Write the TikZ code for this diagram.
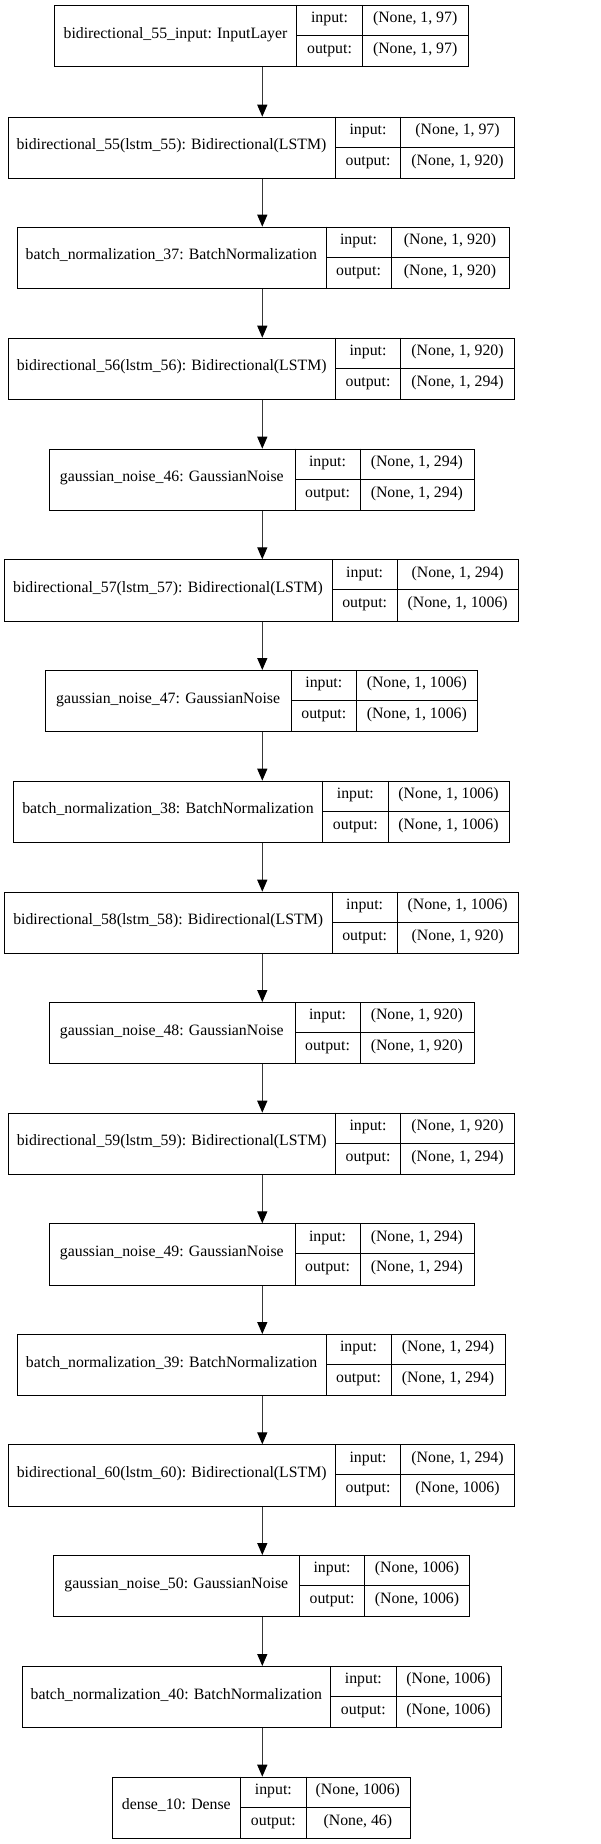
\documentclass[tikz,border=0pt]{standalone}
\usepackage{fontspec}
\setmainfont{Liberation Serif}
\usetikzlibrary{arrows.meta}
\tikzset{
  layerframe/.style={draw=black, line width=1pt, inner sep=0pt, minimum height=61.3pt},
  cellline/.style={draw=black, line width=1pt},
  celltext/.style={inner sep=0pt, text height=0.68em, text depth=0.2em, font=\fontsize{15.8}{18}\selectfont},
  flowarrow/.style={draw=black!78, line width=1.3pt, -{Triangle[length=12pt,width=10pt,color=black,fill=black]}}
}
% #1 name, #2 top, #3 left, #4 divider 1, #5 divider 2, #6 right, #7 label, #8 input, #9 output
\newcommand\layerbox[9]{%
  \pgfmathsetmacro\lwidth{#6-#3}%
  \node[layerframe, minimum width=\lwidth pt, anchor=north west] (#1) at (#3,#2) {};
  \draw[cellline] ({#4},{#2}) -- ({#4},{#2+61.3});
  \draw[cellline] ({#5},{#2}) -- ({#5},{#2+61.3});
  \draw[cellline] ({#4},{#2+30.65}) -- ({#6},{#2+30.65});
  \node[celltext] (#1-l)  at ({(#3+#4)/2},{#2+30.65}) {#7};
  \node[celltext] (#1-ki) at ({(#4+#5)/2},{#2+15.3}) {input:};
  \node[celltext] (#1-ko) at ({(#4+#5)/2},{#2+46}) {output:};
  \node[celltext] (#1-vi) at ({(#5+#6)/2},{#2+15.3}) {#8};
  \node[celltext] (#1-vo) at ({(#5+#6)/2},{#2+46}) {#9};
}
\begin{document}
\begin{tikzpicture}[x=1pt,y=-1pt]
\fill[white] (0,0) rectangle (600,1844);
\useasboundingbox (0,0) rectangle (600,1844);
\coordinate (ax) at (262.3,0);
\layerbox{L0}{5}{54.3}{296.7}{362.3}{468}{bidirectional\_55\_input: InputLayer}{(None, 1, 97)}{(None, 1, 97)}
\layerbox{L1}{116.7}{7.5}{335.3}{400.7}{514.3}{bidirectional\_55(lstm\_55): Bidirectional(LSTM)}{(None, 1, 97)}{(None, 1, 920)}
\layerbox{L2}{226.7}{16.7}{326}{391}{509}{batch\_normalization\_37: BatchNormalization}{(None, 1, 920)}{(None, 1, 920)}
\layerbox{L3}{337.7}{8}{335.3}{400.7}{514.3}{bidirectional\_56(lstm\_56): Bidirectional(LSTM)}{(None, 1, 920)}{(None, 1, 294)}
\layerbox{L4}{448.7}{48.7}{295}{360}{473.7}{gaussian\_noise\_46: GaussianNoise}{(None, 1, 294)}{(None, 1, 294)}
\layerbox{L5}{559.3}{4}{332}{397.3}{518}{bidirectional\_57(lstm\_57): Bidirectional(LSTM)}{(None, 1, 294)}{(None, 1, 1006)}
\layerbox{L6}{670}{45}{291.3}{356.3}{477.3}{gaussian\_noise\_47: GaussianNoise}{(None, 1, 1006)}{(None, 1, 1006)}
\layerbox{L7}{780.7}{13.3}{322.7}{388}{509}{batch\_normalization\_38: BatchNormalization}{(None, 1, 1006)}{(None, 1, 1006)}
\layerbox{L8}{891.7}{4.3}{332}{397.3}{518}{bidirectional\_58(lstm\_58): Bidirectional(LSTM)}{(None, 1, 1006)}{(None, 1, 920)}
\layerbox{L9}{1002}{48.7}{295}{360}{473.7}{gaussian\_noise\_48: GaussianNoise}{(None, 1, 920)}{(None, 1, 920)}
\layerbox{L10}{1112.7}{8}{335.3}{400.7}{514.3}{bidirectional\_59(lstm\_59): Bidirectional(LSTM)}{(None, 1, 920)}{(None, 1, 294)}
\layerbox{L11}{1223.3}{48.7}{295}{360}{473.7}{gaussian\_noise\_49: GaussianNoise}{(None, 1, 294)}{(None, 1, 294)}
\layerbox{L12}{1334}{17.3}{326}{391}{505}{batch\_normalization\_39: BatchNormalization}{(None, 1, 294)}{(None, 1, 294)}
\layerbox{L13}{1444.3}{8}{335.3}{400.7}{514.3}{bidirectional\_60(lstm\_60): Bidirectional(LSTM)}{(None, 1, 294)}{(None, 1006)}
\layerbox{L14}{1555}{53.3}{299.3}{364.7}{469.3}{gaussian\_noise\_50: GaussianNoise}{(None, 1006)}{(None, 1006)}
\layerbox{L15}{1666}{22}{330.7}{396}{501}{batch\_normalization\_40: BatchNormalization}{(None, 1006)}{(None, 1006)}
\layerbox{L16}{1776.7}{112}{240.7}{306}{409.7}{dense\_10: Dense}{(None, 1006)}{(None, 46)}
\foreach \i [evaluate=\i as \j using int(\i+1)] in {0,...,15} {
  \draw[flowarrow] (L\i.south -| ax) -- (L\j.north -| ax);
}
\end{tikzpicture}
\end{document}
